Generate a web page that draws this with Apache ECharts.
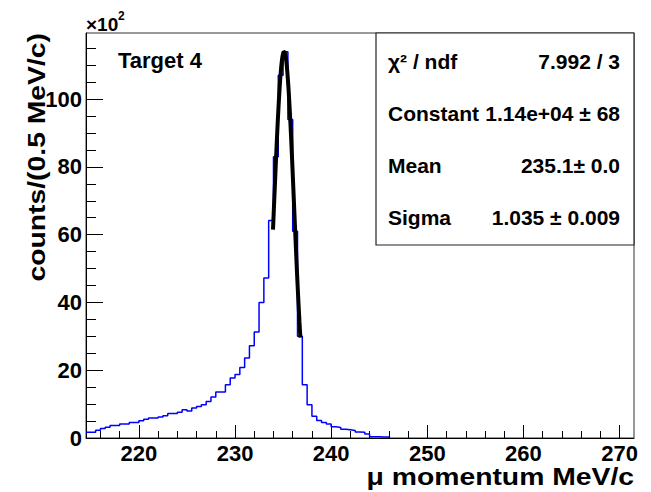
<!DOCTYPE html>
<html>
<head>
<meta charset="utf-8">
<script src="https://cdn.jsdelivr.net/npm/echarts@6/dist/echarts.min.js"></script>
<style>
  html, body { margin: 0; padding: 0; background: #fff; }
  #chart { width: 651px; height: 492px; }
</style>
</head>
<body>
<div id="chart"></div>
<script>
// Muon momentum spectrum, 0.5 MeV/c bins, counts in units of 10^2
const binStart = 214.5;
const binWidth = 0.5;
const counts = [
  1.7, 1.7, 2.25, 2.8, 3.2, 3.7, 3.7, 4.1, 4.1, 4.6, 4.6, 5.1, 5.5, 5.9, 5.9, 6.2,
  6.6, 7.2, 7.2, 7.6, 8.3, 8.0, 8.85, 9.3, 9.8, 10.8, 12.1, 13.6, 13.6, 15.7, 17.7,
  18.7, 20.8, 23.6, 27.2, 31.3, 40.0, 47.2, 64.2, 83, 107, 114, 94, 61, 30, 15.7,
  9.8, 6.4, 5.2, 4.6, 4.1, 3.3, 3.1, 2.6, 2.4, 2.2, 1.8, 1.7, 1.2, 0.4, 0.35, 0.3, 0.3
];

// Gaussian fit result
const fitConstant = 1.14e4;
const fitMean = 235.1;
const fitSigma = 1.035;
const fitRange = [233.95, 236.8];
const yScale = 100; // axis shows counts / 10^2

// Axis ticks
const xMajor = [220, 230, 240, 250, 260, 270];
const xMinor = [216, 218, 222, 224, 226, 228, 232, 234, 236, 238, 242, 244, 246, 248,
                252, 254, 256, 258, 262, 264, 266, 268];
const yMajor = [0, 20, 40, 60, 80, 100];
const yMinor = [5, 10, 15, 25, 30, 35, 45, 50, 55, 65, 70, 75, 85, 90, 95, 105, 110, 115];

// Stats box lines
const statNames = ['χ² / ndf', 'Constant', 'Mean', 'Sigma'];
const statValues = ['7.992 / 3', '1.14e+04 ± 68', '235.1± 0.0', '1.035 ± 0.009'];

const FONT = '"Liberation Sans", Arial, Helvetica, sans-serif';

// histogram outline as a step path through bin edges
const histPts = [];
counts.forEach((c, i) => {
  const lo = binStart + i * binWidth;
  histPts.push([lo, c], [lo + binWidth, c]);
});
histPts.push([binStart + counts.length * binWidth, 0]);

// fit curve sampled over its range
const fitPts = [];
const nFit = 120;
for (let i = 0; i <= nFit; i++) {
  const x = fitRange[0] + (fitRange[1] - fitRange[0]) * i / nFit;
  const d = (x - fitMean) / fitSigma;
  fitPts.push([x, fitConstant * Math.exp(-0.5 * d * d) / yScale]);
}

const chart = echarts.init(document.getElementById('chart'), null, { renderer: 'svg' });

const labelStyle = { fontFamily: FONT, fontWeight: 'bold', fontSize: 22, color: '#000' };

const statsBox = { left: 376, top: 33, width: 258, height: 212 };
const statGraphics = [{
  type: 'rect', z: 10,
  shape: { x: statsBox.left, y: statsBox.top, width: statsBox.width, height: statsBox.height },
  style: { fill: '#fff', stroke: '#222', lineWidth: 1.2 }
}];
statNames.forEach((n, i) => {
  const yc = 61 + 52 * i;
  statGraphics.push({
    type: 'text', z: 11, x: 388, y: yc,
    style: { text: n, fontFamily: FONT, fontWeight: 'bold', fontSize: 21, fill: '#000',
             align: 'left', verticalAlign: 'middle' }
  });
  statGraphics.push({
    type: 'text', z: 11, x: 620, y: yc,
    style: { text: statValues[i], fontFamily: FONT, fontWeight: 'bold', fontSize: 21, fill: '#000',
             align: 'right', verticalAlign: 'middle' }
  });
});

const option = {
  animation: false,
  backgroundColor: '#fff',
  grid: { left: 86, top: 33, right: 17, bottom: 54, show: true, borderColor: '#333', borderWidth: 1 },
  xAxis: [
    {
      type: 'value', min: 214.5, max: 271.5,
      axisLine: { lineStyle: { color: '#000', width: 1 } },
      axisTick: { inside: true, length: 13, customValues: xMajor, lineStyle: { color: '#000', width: 1 } },
      axisLabel: Object.assign({ customValues: xMajor, margin: 4 }, labelStyle),
      splitLine: { show: false }
    },
    {
      type: 'value', min: 214.5, max: 271.5, position: 'bottom',
      axisLine: { show: false },
      axisTick: { inside: true, length: 7, customValues: xMinor, lineStyle: { color: '#000', width: 1 } },
      axisLabel: { show: false },
      splitLine: { show: false }
    }
  ],
  yAxis: [
    {
      type: 'value', min: 0, max: 119.5,
      axisLine: { show: true, lineStyle: { color: '#000', width: 1 } },
      axisTick: { show: true, inside: true, length: 17, customValues: yMajor, lineStyle: { color: '#000', width: 1 } },
      axisLabel: Object.assign({ customValues: yMajor, margin: 4 }, labelStyle),
      splitLine: { show: false }
    },
    {
      type: 'value', min: 0, max: 119.5, position: 'left',
      axisLine: { show: false },
      axisTick: { show: true, inside: true, length: 10, customValues: yMinor, lineStyle: { color: '#000', width: 1 } },
      axisLabel: { show: false },
      splitLine: { show: false }
    }
  ],
  series: [
    {
      type: 'line', data: histPts, symbol: 'none', xAxisIndex: 0, yAxisIndex: 0,
      lineStyle: { color: '#0000ff', width: 1.5 }, z: 2
    },
    {
      type: 'line', data: fitPts, symbol: 'none', xAxisIndex: 0, yAxisIndex: 0,
      lineStyle: { color: '#000', width: 4 }, z: 3
    }
  ],
  graphic: [
    { type: 'text', x: 86, y: 24,
      style: { text: '×10', fontFamily: FONT, fontWeight: 'bold', fontSize: 19, fill: '#000',
               align: 'left', verticalAlign: 'middle' } },
    { type: 'text', x: 118, y: 16,
      style: { text: '2', fontFamily: FONT, fontWeight: 'bold', fontSize: 12, fill: '#000',
               align: 'left', verticalAlign: 'middle' } },
    { type: 'text', x: 118, y: 60,
      style: { text: 'Target 4', fontFamily: FONT, fontWeight: 'bold', fontSize: 22, fill: '#000',
               align: 'left', verticalAlign: 'middle' } },
    // axis titles: wide bold face, stretched along the reading direction
    { type: 'text', x: 634, y: 477, scaleX: 1.18,
      style: { text: 'μ momentum MeV/c', fontFamily: FONT, fontWeight: 'bold', fontSize: 24, fill: '#000',
               align: 'right', verticalAlign: 'middle' } },
    { type: 'text', x: 37, y: 33, rotation: Math.PI / 2, scaleX: 1.18,
      style: { text: 'counts/(0.5 MeV/c)', fontFamily: FONT, fontWeight: 'bold', fontSize: 24, fill: '#000',
               align: 'right', verticalAlign: 'middle' } }
  ].concat(statGraphics)
};

chart.setOption(option);
</script>
</body>
</html>
